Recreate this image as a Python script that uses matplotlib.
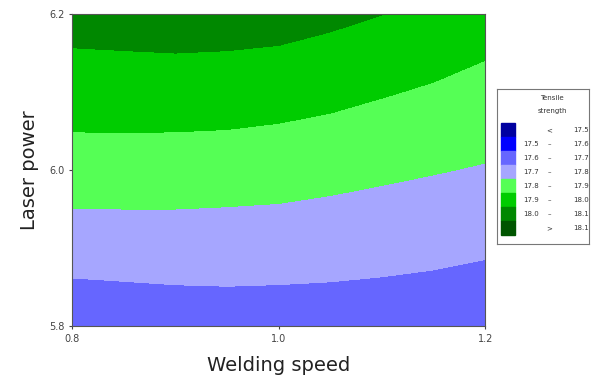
import numpy as np
import matplotlib.pyplot as plt
from matplotlib.patches import Rectangle

# grid
speed = [0.80, 0.85, 0.90, 0.95, 1.00, 1.05, 1.10, 1.15, 1.20]
power = [5.80, 5.85, 5.90, 5.95, 6.00, 6.05, 6.10, 6.15, 6.20]
# tensile strength, one row per power value, one column per speed value
strength = [
    [17.627, 17.635, 17.644, 17.650, 17.650, 17.650, 17.648, 17.642, 17.629],
    [17.687, 17.692, 17.697, 17.699, 17.697, 17.694, 17.689, 17.682, 17.671],
    [17.743, 17.746, 17.748, 17.748, 17.745, 17.739, 17.731, 17.723, 17.712],
    [17.799, 17.800, 17.800, 17.797, 17.793, 17.784, 17.774, 17.764, 17.753],
    [17.850, 17.851, 17.851, 17.847, 17.842, 17.830, 17.817, 17.805, 17.793],
    [17.901, 17.902, 17.901, 17.898, 17.890, 17.878, 17.862, 17.847, 17.832],
    [17.948, 17.950, 17.950, 17.948, 17.940, 17.926, 17.907, 17.889, 17.869],
    [17.994, 17.997, 18.000, 17.997, 17.990, 17.974, 17.954, 17.932, 17.907],
    [18.038, 18.043, 18.049, 18.046, 18.041, 18.022, 18.001, 17.975, 17.944],
]
levels = [17.5, 17.6, 17.7, 17.8, 17.9, 18.0, 18.1]
colors = ['#0000A0', '#0000FF', '#6666FF', '#A6A6FF',
          '#55FF55', '#00CC00', '#008800', '#005500']

fig = plt.figure(figsize=(5.96, 3.80), dpi=100)
ax = fig.add_axes([0.121, 0.142, 0.693, 0.821])

bounds = [10.0] + levels + [30.0]
ax.contourf(speed, power, strength, levels=bounds, colors=colors)

ax.set_xlim(0.8, 1.2)
ax.set_ylim(5.8, 6.2)
ax.set_xticks([0.8, 1.0, 1.2])
ax.set_yticks([5.8, 6.0, 6.2])
ax.tick_params(labelsize=7, colors='#444444', length=2, width=0.8)
for s in ax.spines.values():
    s.set_color('#555555')
    s.set_linewidth(0.8)
ax.set_xlabel('Welding speed', fontsize=14, color='#222222', labelpad=9)
ax.set_ylabel('Laser power', fontsize=14, color='#222222', labelpad=7)

# legend box
lg = fig.add_axes([0.834, 0.358, 0.154, 0.408])
lg.set_xlim(0, 92)
lg.set_ylim(155, 0)
lg.set_xticks([])
lg.set_yticks([])
for s in lg.spines.values():
    s.set_color('#777777')
    s.set_linewidth(0.8)
lg.text(55, 9, 'Tensile', fontsize=5, ha='center', va='center', color='#333333')
lg.text(55, 22, 'strength', fontsize=5, ha='center', va='center', color='#333333')

labels = []
labels.append(('', '<', f'{levels[0]:.1f}'))
for a, b in zip(levels[:-1], levels[1:]):
    labels.append((f'{a:.1f}', '\u2013', f'{b:.1f}'))
labels.append(('', '>', f'{levels[-1]:.1f}'))

for i, (c, lab) in enumerate(zip(colors, labels)):
    yc = 41 + i * 14
    lg.add_patch(Rectangle((4, yc - 7), 14, 14, color=c))
    lg.text(26, yc, lab[0], fontsize=5, va='center', color='#333333')
    lg.text(52, yc, lab[1], fontsize=5, va='center', ha='center', color='#333333')
    lg.text(76, yc, lab[2], fontsize=5, va='center', ha='left', color='#333333')

fig.savefig('out.png', dpi=100)
